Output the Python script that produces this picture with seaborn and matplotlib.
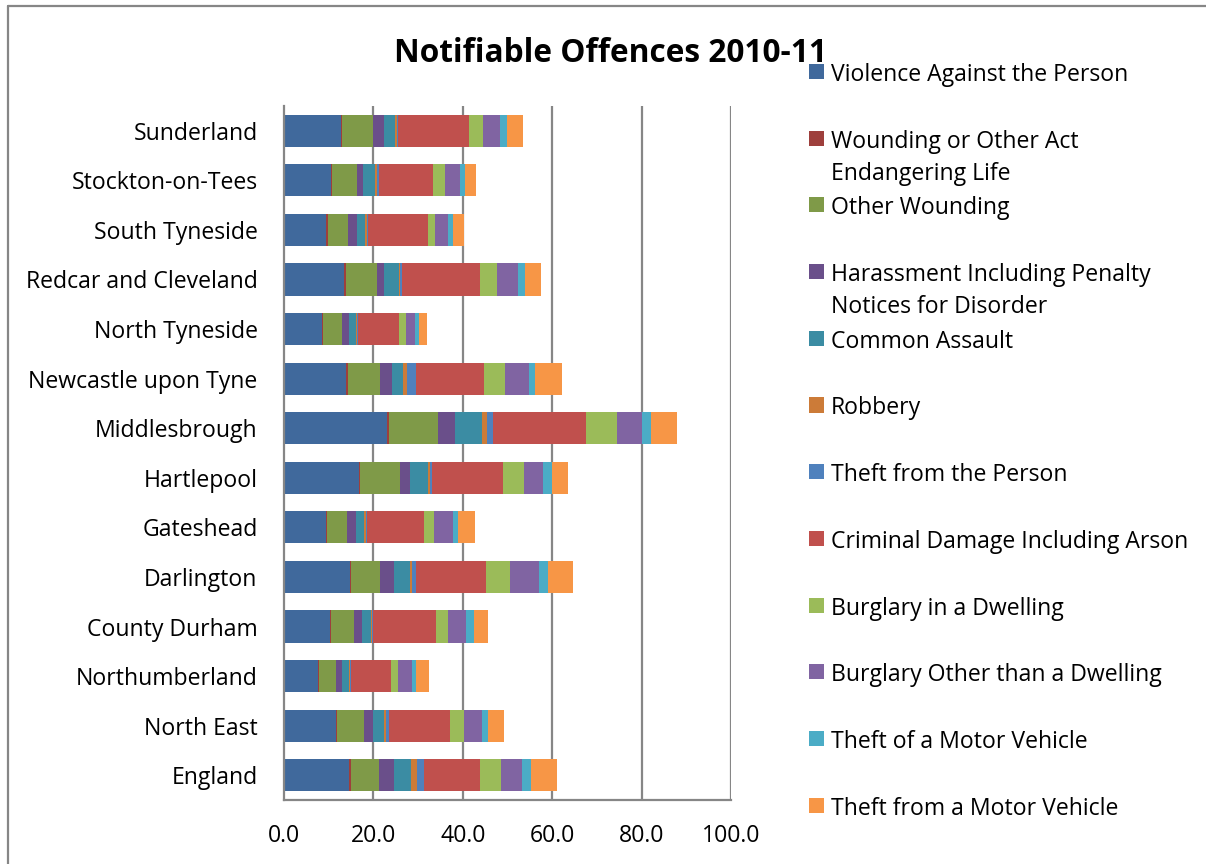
import matplotlib
matplotlib.use("Agg")
import matplotlib.pyplot as plt
from matplotlib.patches import Rectangle
from matplotlib.lines import Line2D
import numpy as np
import pandas as pd
import seaborn as sns

# Offence rates per 1,000 population, 2010-11
areas = ["Sunderland", "Stockton-on-Tees", "South Tyneside", "Redcar and Cleveland",
         "North Tyneside", "Newcastle upon Tyne", "Middlesbrough", "Hartlepool",
         "Gateshead", "Darlington", "County Durham", "Northumberland",
         "North East", "England"]

offences = ["Violence Against the Person",
            "Wounding or Other Act\nEndangering Life",
            "Other Wounding",
            "Harassment Including Penalty\nNotices for Disorder",
            "Common Assault",
            "Robbery",
            "Theft from the Person",
            "Criminal Damage Including Arson",
            "Burglary in a Dwelling",
            "Burglary Other than a Dwelling",
            "Theft of a Motor Vehicle",
            "Theft from a Motor Vehicle"]

violence = [12.8, 10.5, 9.5, 13.4, 8.5, 13.9, 23.1, 16.8, 9.4, 14.8, 10.4, 7.6, 11.6, 14.6]
wounding_endangering = [0.2, 0.3, 0.3, 0.4, 0.2, 0.5, 0.5, 0.1, 0.3, 0.2, 0.2, 0.15, 0.3, 0.4]
other_wounding = [6.9, 5.6, 4.5, 7.0, 4.2, 7.0, 10.8, 9.0, 4.3, 6.4, 5.0, 3.85, 5.9, 6.3]
harassment = [2.5, 1.3, 2.0, 1.6, 1.6, 2.8, 3.8, 2.3, 2.2, 3.1, 1.9, 1.4, 2.1, 3.2]
common_assault = [2.5, 2.7, 1.9, 3.3, 1.5, 2.5, 6.2, 4.0, 1.8, 3.7, 2.0, 1.5, 2.5, 3.8]
robbery = [0.3, 0.4, 0.3, 0.3, 0.25, 0.8, 1.1, 0.4, 0.25, 0.4, 0.2, 0.2, 0.4, 1.5]
theft_person = [0.4, 0.4, 0.3, 0.3, 0.25, 2.0, 1.3, 0.4, 0.25, 0.9, 0.3, 0.2, 0.6, 1.6]
criminal_damage = [15.8, 12.1, 13.4, 17.5, 9.2, 15.2, 20.8, 16.0, 12.8, 15.7, 14.1, 9.1, 13.8, 12.4]
burglary_dwelling = [3.1, 2.7, 1.6, 3.8, 1.7, 4.7, 7.0, 4.7, 2.3, 5.3, 2.6, 1.6, 3.0, 4.8]
burglary_other = [3.8, 3.4, 3.0, 4.8, 2.0, 5.3, 5.6, 4.3, 4.1, 6.6, 4.0, 3.1, 4.1, 4.7]
theft_of_vehicle = [1.5, 1.2, 1.1, 1.6, 0.8, 1.5, 1.9, 2.0, 1.3, 2.0, 1.7, 0.8, 1.3, 2.0]
theft_from_vehicle = [3.7, 2.4, 2.3, 3.5, 1.9, 6.0, 5.9, 3.6, 3.7, 5.6, 3.2, 2.9, 3.7, 5.7]

series = [violence, wounding_endangering, other_wounding, harassment, common_assault,
          robbery, theft_person, criminal_damage, burglary_dwelling, burglary_other,
          theft_of_vehicle, theft_from_vehicle]

colors = ["#40699C", "#9E3F3C", "#7F9A48", "#6A4F8A", "#3B8CA3", "#CC7B38",
          "#4F81BD", "#C0504D", "#9BBB59", "#8064A2", "#4BACC6", "#F79646"]

xticks = [0, 20, 40, 60, 80, 100]
xtick_labels = ["0.0", "20.0", "40.0", "60.0", "80.0", "100.0"]

# Long-form table with running totals for the stacked bars
values = np.array(series, dtype=float)
cumulative = np.cumsum(values, axis=0)
rows = []
for i, name in enumerate(offences):
    for j, area in enumerate(areas):
        rows.append({"area": area, "offence": name, "end": cumulative[i, j]})
df = pd.DataFrame(rows)

sns.set_theme(style="white")
font = ["Open Sans", "DejaVu Sans"]
plt.rcParams["font.family"] = font
fs = 16.6

W, H = 1206, 864
fig = plt.figure(figsize=(W / 100, H / 100), dpi=100)
ax = fig.add_axes([284 / W, 1 - 800 / H, (731 - 284) / W, (800 - 106) / H])

grid_col = "#868686"
for x in xticks[1:]:
    ax.axvline(x, color=grid_col, lw=1.6, zorder=0)

# Draw the longest running total first so each shorter one sits on top
for i in range(len(offences) - 1, -1, -1):
    sub = df[df["offence"] == offences[i]]
    sns.barplot(data=sub, x="end", y="area", order=areas, orient="h",
                color=colors[i], saturation=1, width=0.65, ax=ax,
                edgecolor="none", linewidth=0, errorbar=None, zorder=2)

ax.set_xlim(0, 100)
ax.set_ylim(13.5, -0.5)
ax.set_xticks(xticks)
ax.set_xticklabels(xtick_labels, fontsize=fs)
ax.tick_params(axis="x", length=0, pad=17, colors="black")
ax.tick_params(axis="y", length=0, pad=19, labelsize=fs, colors="black")
for lab in ax.get_yticklabels():
    lab.set_verticalalignment("center_baseline")
ax.set_xlabel("")
ax.set_ylabel("")
for side in ["top", "right"]:
    ax.spines[side].set_visible(False)
for side in ["left", "bottom"]:
    ax.spines[side].set_color(grid_col)
    ax.spines[side].set_linewidth(1.6)

fig.text(610 / W, 1 - 53 / H, "Notifiable Offences 2010-11", ha="center", va="center",
         fontsize=22.8, fontweight="bold", color="black")

# Legend on the right: one slot per offence, marker beside the first text line
slot0, step = 72, 66.7
for i, name in enumerate(offences):
    yc = slot0 + i * step
    fig.add_artist(Rectangle((809 / W, 1 - (yc + 7) / H), 15 / W, 15 / H,
                             transform=fig.transFigure, facecolor=colors[i],
                             edgecolor="none"))
    lines = name.split("\n")
    for k, line in enumerate(lines):
        fig.text(831 / W, 1 - (yc + k * 32) / H, line, ha="left", va="center_baseline",
                 fontsize=fs, color="black")

# Chart frame
fig.add_artist(Line2D([8 / W, 8 / W], [0, 1 - 6 / H], transform=fig.transFigure,
                      color=grid_col, lw=1.6))
fig.add_artist(Line2D([8 / W, 1], [1 - 6 / H, 1 - 6 / H], transform=fig.transFigure,
                      color=grid_col, lw=1.6))

fig.savefig("out.png", dpi=100, facecolor="white")
